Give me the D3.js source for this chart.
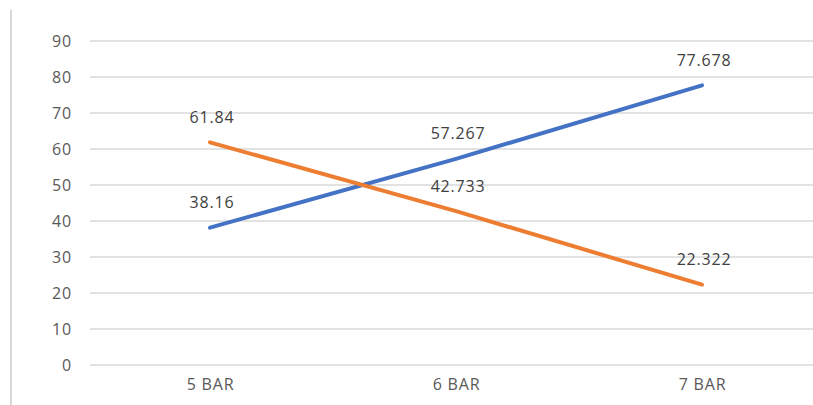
<!DOCTYPE html>
<html>
<head>
<meta charset="utf-8">
<script src="https://cdn.jsdelivr.net/npm/d3@7"></script>
<style>
  html, body { margin: 0; padding: 0; background: #fff; }
  svg { display: block; }
  text { font-family: "Open Sans", "Liberation Sans", sans-serif; }
</style>
</head>
<body>
<script>
// Chart data
const categories = ["5 BAR", "6 BAR", "7 BAR"];
const seriesBlue = [38.16, 57.267, 77.678];
const seriesOrange = [61.84, 42.733, 22.322];
const yTicks = [0, 10, 20, 30, 40, 50, 60, 70, 80, 90];

const W = 813, H = 405;
const svg = d3.select("body").append("svg").attr("width", W).attr("height", H);

const x = d3.scalePoint().domain(categories).range([210, 702]);
const y = d3.scaleLinear().domain([0, 90]).range([365, 41]);

// left border line
svg.append("line")
  .attr("x1", 11).attr("x2", 11).attr("y1", 10).attr("y2", H)
  .attr("stroke", "#d9d9d9").attr("stroke-width", 2);

// horizontal gridlines
svg.append("g").selectAll("line").data(yTicks).join("line")
  .attr("x1", 90).attr("x2", W)
  .attr("y1", d => y(d)).attr("y2", d => y(d))
  .attr("stroke", "#d9d9d9").attr("stroke-width", 1.5);

// y axis labels
const yAxis = d3.axisLeft(y).tickValues(yTicks).tickSize(0).tickPadding(0);
const gy = svg.append("g").attr("transform", "translate(72,0)").call(yAxis);
gy.select(".domain").remove();
gy.selectAll("text")
  .attr("fill", "#595959").attr("font-size", 16)
  .attr("letter-spacing", "0.8px")
  .style("font-family", "'Open Sans', sans-serif");

// x axis labels
const xAxis = d3.axisBottom(x).tickSize(0).tickPadding(0);
const gx = svg.append("g").attr("transform", "translate(0,379)").call(xAxis);
gx.select(".domain").remove();
gx.selectAll("text")
  .attr("fill", "#595959").attr("font-size", 16)
  .attr("letter-spacing", "0.8px")
  .style("font-family", "'Open Sans', sans-serif");

const line = d3.line().x((d, i) => x(categories[i])).y(d => y(d));

const series = [
  { values: seriesBlue, color: "#4472C4" },
  { values: seriesOrange, color: "#ED7D31" }
];

series.forEach(s => {
  svg.append("path")
    .datum(s.values)
    .attr("d", line)
    .attr("fill", "none")
    .attr("stroke", s.color)
    .attr("stroke-width", 4)
    .attr("stroke-linecap", "round")
    .attr("stroke-linejoin", "round");
});

// data labels
series.forEach(s => {
  svg.append("g").selectAll("text").data(s.values).join("text")
    .attr("x", (d, i) => x(categories[i]) + 2)
    .attr("y", d => y(d) - 25)
    .attr("dy", "0.35em")
    .attr("text-anchor", "middle")
    .attr("fill", "#404040")
    .attr("font-size", 16)
    .attr("letter-spacing", "0.8px")
    .text(d => d);
});
</script>
</body>
</html>
